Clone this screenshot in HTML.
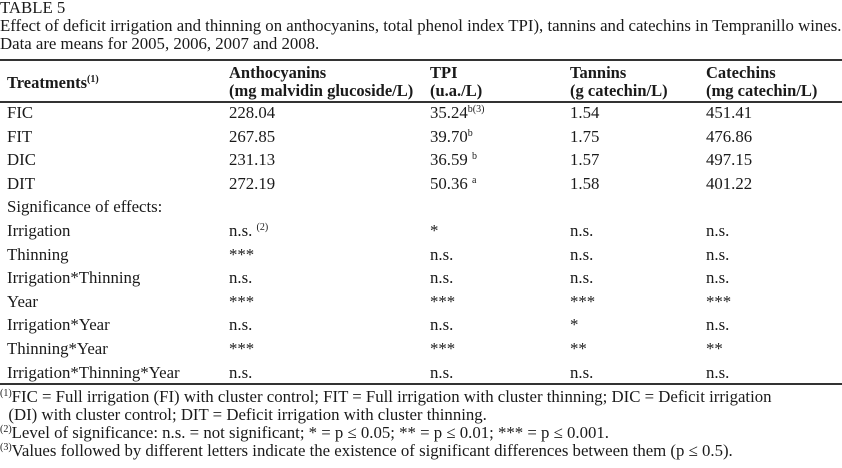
<!DOCTYPE html>
<html><head><meta charset="utf-8"><style>
body{margin:0;width:842px;height:468px;background:#fff;overflow:hidden;font-family:"Liberation Serif",serif;color:#1a1a1a;font-size:16.8px;position:relative}
.t{position:absolute;white-space:nowrap;line-height:18px}
.b{font-weight:bold;font-size:16.5px}
sup{font-size:10px;vertical-align:6px;line-height:1}
.ln{position:absolute;left:0;width:842px;background:#333}
</style></head><body>
<div class="t" style="left:0;top:-1px">TABLE 5</div>
<div class="t" style="left:0;top:17px">Effect of deficit irrigation and thinning on anthocyanins, total phenol index TPI), tannins and catechins in Tempranillo wines.</div>
<div class="t" style="left:0;top:35px">Data are means for 2005, 2006, 2007 and 2008.</div>
<div class="ln" style="top:59px;height:2px"></div>
<div class="t b" style="left:7px;top:74px">Treatments<sup>(1)</sup></div>
<div class="t b" style="left:229px;top:64px">Anthocyanins<br>(mg malvidin glucoside/L)</div>
<div class="t b" style="left:430px;top:64px">TPI<br>(u.a./L)</div>
<div class="t b" style="left:570px;top:64px">Tannins<br>(g catechin/L)</div>
<div class="t b" style="left:706px;top:64px">Catechins<br>(mg catechin/L)</div>
<div class="ln" style="top:101px;height:1.5px"></div>
<div id="rows"></div>
<div class="ln" style="top:383px;height:1.5px"></div>
<div class="t" style="left:0;top:388px"><sup>(1)</sup>FIC = Full irrigation (FI) with cluster control; FIT = Full irrigation with cluster thinning; DIC = Deficit irrigation</div>
<div class="t" style="left:0;top:406px">&nbsp;&nbsp;(DI) with cluster control; DIT = Deficit irrigation with cluster thinning.</div>
<div class="t" style="left:0;top:424px"><sup>(2)</sup>Level of significance: n.s. = not significant; * = p ≤ 0.05; ** = p ≤ 0.01; *** = p ≤ 0.001.</div>
<div class="t" style="left:0;top:442px"><sup>(3)</sup>Values followed by different letters indicate the existence of significant differences between them (p ≤ 0.5).</div>
<script>
const labels=["FIC","FIT","DIC","DIT","Significance of effects:","Irrigation","Thinning","Irrigation*Thinning","Year","Irrigation*Year","Thinning*Year","Irrigation*Thinning*Year"];
const antho=["228.04","267.85","231.13","272.19","","n.s. <sup>(2)</sup>","***","n.s.","***","n.s.","***","n.s."];
const tpi=["35.24<sup>b(3)</sup>","39.70<sup>b</sup>","36.59 <sup>b</sup>","50.36 <sup>a</sup>","","*","n.s.","n.s.","***","n.s.","***","n.s."];
const tann=["1.54","1.75","1.57","1.58","","n.s.","n.s.","n.s.","***","*","**","n.s."];
const cat=["451.41","476.86","497.15","401.22","","n.s.","n.s.","n.s.","***","n.s.","**","n.s."];
const cols=[[7,labels],[229,antho],[430,tpi],[570,tann],[706,cat]];
const root=document.getElementById('rows');
labels.forEach((l,i)=>{
  const y=104+i*23.6;
  cols.forEach(([x,arr],c)=>{
    if(!arr[i])return;
    const d=document.createElement('div');
    d.className='t';
    d.style.left=x+'px';d.style.top=y+'px';
    d.innerHTML=arr[i];
    
    
    root.appendChild(d);
  });
});
</script>
</body></html>
